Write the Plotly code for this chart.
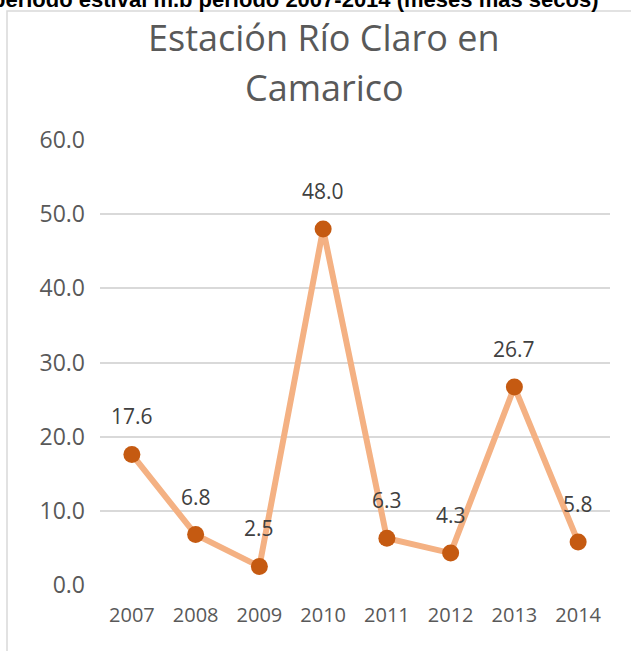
import plotly.graph_objects as go

years = [2007, 2008, 2009, 2010, 2011, 2012, 2013, 2014]
values = [17.6, 6.8, 2.5, 48.0, 6.3, 4.3, 26.7, 5.8]
y_ticks = [0, 10, 20, 30, 40, 50, 60]

W, H = 631, 651
ml, mr, mt, mb = 100, 21, 140, 66
pw = W - ml - mr
ph = H - mt - mb

# pixel -> paper helpers (for things outside the plot area)
def to_px(x):
    return (x - ml) / pw

def to_py(y):
    return (H - mb - y) / ph

fig = go.Figure()

fig.add_trace(go.Scatter(
    x=years, y=values, mode="lines+markers",
    line=dict(color="#F4B183", width=6),
    marker=dict(color="#C55A11", size=17),
    hoverinfo="x+y",
))

# data labels above points
for yr, v in zip(years, values):
    fig.add_annotation(x=yr, y=v, text=f"{v:.1f}", showarrow=False,
                       yshift=38, yanchor="middle",
                       font=dict(family="Open Sans", size=21, color="#404040"))

# chart title, two lines
fig.add_annotation(xref="paper", yref="paper", x=to_px(324), y=to_py(37),
                   xanchor="center", yanchor="middle",
                   text="Estación Río Claro en", showarrow=False,
                   font=dict(family="Open Sans", size=36, color="#595959"))
fig.add_annotation(xref="paper", yref="paper", x=to_px(324), y=to_py(87),
                   xanchor="center", yanchor="middle",
                   text="Camarico", showarrow=False,
                   font=dict(family="Open Sans", size=36, color="#595959"))

# cut-off caption from the page above the chart
fig.add_annotation(xref="paper", yref="paper", x=to_px(-10), y=to_py(-1),
                   xanchor="left", yanchor="middle",
                   text="<b>período estival m.b período 2007-2014 (meses más secos)</b>",
                   showarrow=False,
                   font=dict(family="Liberation Sans", size=22, color="#000000"))

# chart frame
fig.add_shape(type="rect", xref="paper", yref="paper",
              x0=to_px(7), x1=to_px(700), y0=to_py(700), y1=to_py(11),
              line=dict(color="#D9D9D9", width=1.5), layer="below")

fig.update_layout(
    width=W, height=H,
    margin=dict(l=ml, r=mr, t=mt, b=mb),
    paper_bgcolor="white", plot_bgcolor="white",
    showlegend=False,
    xaxis=dict(range=[2006.5, 2014.5], tickvals=years, showgrid=False,
               zeroline=False, showline=False, ticks="", ticklabelstandoff=16,
               tickfont=dict(family="Open Sans", size=20, color="#595959")),
    yaxis=dict(range=[0, 60], tickvals=y_ticks, tickformat=".1f",
               showgrid=True, gridcolor="#D9D9D9", gridwidth=2,
               zeroline=False, showline=False, ticks="", ticklabelstandoff=14,
               tickfont=dict(family="Open Sans", size=23, color="#595959")),
)

fig.write_html("out.html", config={"displayModeBar": False},
               post_script="document.body.style.margin='0';")
